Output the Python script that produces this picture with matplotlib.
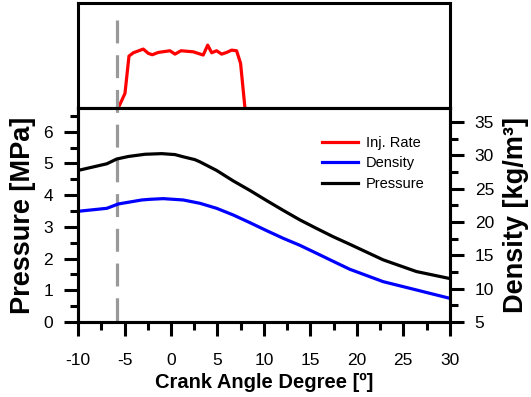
import matplotlib
matplotlib.use('Agg')
import matplotlib.pyplot as plt
import matplotlib.transforms as mtransforms
from matplotlib.ticker import MultipleLocator

plt.rcParams['font.family'] = ['Liberation Sans', 'DejaVu Sans']
plt.rcParams['lines.scale_dashes'] = False
plt.rcParams['axes.unicode_minus'] = False

# Injection rate (top panel, arbitrary units 0..1)
inj_angle = [-5.67, -4.95, -4.52, -4.05, -2.98, -2.44, -2.01, -1.37, -0.11, 0.43,
             1.08, 2.40, 3.47, 3.95, 4.38, 4.91, 5.45, 5.99, 6.53, 7.06, 7.49, 7.96]
inj_rate = [0.0, 0.14, 0.495, 0.527, 0.562, 0.521, 0.508, 0.530, 0.546, 0.514,
            0.546, 0.536, 0.505, 0.60, 0.527, 0.546, 0.514, 0.530, 0.552, 0.546, 0.426, 0.0]

# Pressure [MPa]
p_angle = [-10, -6.9, -5.84, -4.59, -2.8, -1.0, 0.43, 1.32, 2.58, 3.12, 4.91, 6.70,
           8.49, 10.29, 12.08, 13.87, 15.67, 17.45, 19.25, 22.83, 26.42, 30]
pressure = [4.78, 4.99, 5.14, 5.22, 5.29, 5.31, 5.28, 5.21, 5.12, 5.05, 4.78, 4.45,
            4.15, 3.83, 3.52, 3.22, 2.95, 2.69, 2.45, 1.96, 1.59, 1.37]

# Density [kg/m3]
d_angle = [-10, -6.9, -5.67, -3.15, -2.26, -0.83, 1.32, 3.12, 4.91, 6.70, 8.49,
           10.29, 12.08, 13.87, 15.67, 17.45, 19.25, 22.83, 26.42, 30]
density = [21.6, 22.05, 22.7, 23.3, 23.4, 23.5, 23.3, 22.8, 22.05, 21.05, 19.9,
           18.7, 17.55, 16.5, 15.3, 14.1, 12.9, 11.05, 9.8, 8.55]

soi = -5.8  # start of injection marker

fig = plt.figure(figsize=(5.31, 3.97), dpi=100)
ax_top = fig.add_axes([0.147, 0.728, 0.700, 0.264])
ax = fig.add_axes([0.147, 0.189, 0.700, 0.539])
ax2 = ax.twinx()

lw = 2.3
spw = 2.2

# top panel
l_inj, = ax_top.plot(inj_angle, inj_rate, color='#FF0000', lw=lw)
ax_top.set_xlim(-10, 30)
ax_top.set_ylim(0, 1)
ax_top.set_xticks([])
ax_top.set_yticks([])
for s in ax_top.spines.values():
    s.set_linewidth(spw)

# bottom panel
l_p, = ax.plot(p_angle, pressure, color='black', lw=lw, solid_joinstyle='round')
l_d, = ax2.plot(d_angle, density, color='#0000FF', lw=lw, solid_joinstyle='round')

ax.set_xlim(-10, 30)
ax.set_ylim(0, 6.75)
ax2.set_ylim(5, 37.1)

ax.xaxis.set_major_locator(MultipleLocator(5))
ax.xaxis.set_minor_locator(MultipleLocator(2.5))
ax.yaxis.set_major_locator(MultipleLocator(1))
ax.yaxis.set_minor_locator(MultipleLocator(0.5))
ax2.yaxis.set_major_locator(MultipleLocator(5))
ax2.yaxis.set_minor_locator(MultipleLocator(2.5))

for a in (ax, ax2):
    for s in a.spines.values():
        s.set_linewidth(spw)
    a.tick_params(which='major', direction='out', length=10, width=2.2, labelsize=12.5, pad=8)
    a.tick_params(which='minor', direction='out', length=5.5, width=2.2)
ax.tick_params(axis='x', pad=12)

ax.set_xlabel('Crank Angle Degree [º]', fontsize=14.5, fontweight='bold', labelpad=4)
ax.set_ylabel('Pressure [MPa]', fontsize=19.5, fontweight='bold', labelpad=5)
ax2.set_ylabel('Density [kg/m³]', fontsize=19.5, fontweight='bold', labelpad=6)

# dashed start-of-injection line across both panels
trans = mtransforms.blended_transform_factory(ax.transData, fig.transFigure)
ax.plot([soi, soi], [0.95, 0.189], transform=trans, color='#999999', lw=2.3,
        linestyle=(0, (16.5, 8.5)), clip_on=False, zorder=1)

ax2.legend([l_inj, l_d, l_p], ['Inj. Rate', 'Density', 'Pressure'],
           loc='upper left', bbox_to_anchor=(0.656, 0.87), frameon=False,
           fontsize=10.5, handlelength=2.5, handletextpad=0.5,
           borderpad=0, borderaxespad=0, labelspacing=0.45)

plt.savefig('out.png', dpi=100)
plt.close()
